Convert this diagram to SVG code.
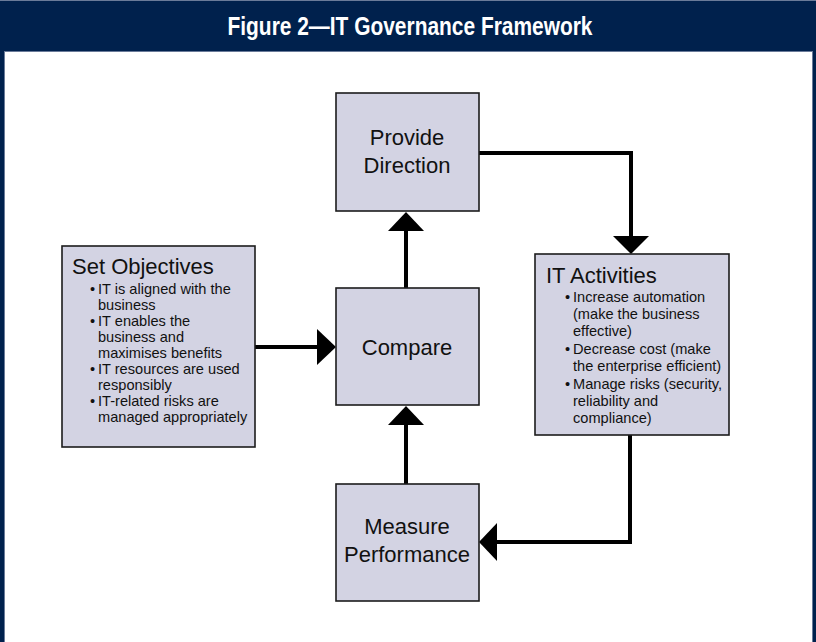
<svg xmlns="http://www.w3.org/2000/svg" width="816" height="642" viewBox="0 0 816 642">
<style>
.box{fill:#D3D3E3;stroke:#1c1c1c;stroke-width:1.6}
.lbl{font-family:"Liberation Sans",Arial,sans-serif;font-size:22px;fill:#111}
.mid{text-anchor:middle}
.sm{font-family:"Liberation Sans",Arial,sans-serif;font-size:14.6px;fill:#111}
.ln{fill:none;stroke:#000;stroke-width:4}
.hd{fill:#ffffff;font-family:"Liberation Sans",Arial,sans-serif;font-weight:bold;font-size:25px}
</style>
<rect x="0" y="0" width="816" height="642" fill="#ffffff"/>
<rect x="0" y="0" width="816" height="51" fill="#00214D"/>
<line x1="0" y1="0.5" x2="816" y2="0.5" stroke="#6a7b99" stroke-width="1"/>
<line x1="5" y1="51.5" x2="813" y2="51.5" stroke="#6a7b99" stroke-width="1"/>
<rect x="0" y="51" width="4" height="591" fill="#00214D"/>
<rect x="4" y="51" width="1" height="591" fill="#6a7b99"/>
<rect x="813" y="51" width="3" height="591" fill="#00214D"/>
<rect x="812" y="51" width="1" height="591" fill="#6a7b99"/>
<text class="hd" x="410" y="35" text-anchor="middle" textLength="365" lengthAdjust="spacingAndGlyphs">Figure 2—IT Governance Framework</text>

<g id="connectors">
<polyline class="ln" points="479,153 631,153 631,238"/>
<polygon points="613,236 649,236 631,254" fill="#000"/>
<line class="ln" x1="406" y1="288" x2="406" y2="229"/>
<polygon points="388,231 424,231 406,212" fill="#000"/>
<line class="ln" x1="255" y1="347" x2="319" y2="347"/>
<polygon points="317,329 317,365 336,347" fill="#000"/>
<line class="ln" x1="406" y1="484" x2="406" y2="423"/>
<polygon points="388,425 424,425 406,406" fill="#000"/>
<polyline class="ln" points="630,435 630,542 495,542"/>
<polygon points="497,523 497,561 479,542" fill="#000"/>
</g>

<g id="provide-direction">
<rect class="box" x="336" y="93" width="143" height="118"/>
<text class="lbl mid" x="407" y="145">Provide</text>
<text class="lbl mid" x="407" y="173">Direction</text>
</g>

<g id="compare">
<rect class="box" x="336" y="288" width="143" height="117"/>
<text class="lbl mid" x="407" y="355">Compare</text>
</g>

<g id="measure-performance">
<rect class="box" x="336" y="484" width="143" height="117"/>
<text class="lbl mid" x="407" y="534">Measure</text>
<text class="lbl mid" x="407" y="562">Performance</text>
</g>

<g id="set-objectives">
<rect class="box" x="62" y="246" width="193" height="201"/>
<text class="lbl" x="72" y="274">Set Objectives</text>
<text class="sm" x="90" y="294">•</text>
<text class="sm" x="98" y="294">IT is aligned with the</text>
<text class="sm" x="98" y="310">business</text>
<text class="sm" x="90" y="326">•</text>
<text class="sm" x="98" y="326">IT enables the</text>
<text class="sm" x="98" y="342">business and</text>
<text class="sm" x="98" y="358">maximises benefits</text>
<text class="sm" x="90" y="374">•</text>
<text class="sm" x="98" y="374">IT resources are used</text>
<text class="sm" x="98" y="390">responsibly</text>
<text class="sm" x="90" y="406">•</text>
<text class="sm" x="98" y="406">IT-related risks are</text>
<text class="sm" x="98" y="422">managed appropriately</text>
</g>

<g id="it-activities">
<rect class="box" x="535" y="254" width="194" height="181"/>
<text class="lbl" x="546" y="283">IT Activities</text>
<text class="sm" x="565" y="302">•</text>
<text class="sm" x="573" y="302">Increase automation</text>
<text class="sm" x="573" y="319">(make the business</text>
<text class="sm" x="573" y="336">effective)</text>
<text class="sm" x="565" y="354">•</text>
<text class="sm" x="573" y="354">Decrease cost (make</text>
<text class="sm" x="573" y="371">the enterprise efficient)</text>
<text class="sm" x="565" y="389">•</text>
<text class="sm" x="573" y="389">Manage risks (security,</text>
<text class="sm" x="573" y="406">reliability and</text>
<text class="sm" x="573" y="423">compliance)</text>
</g>
</svg>
